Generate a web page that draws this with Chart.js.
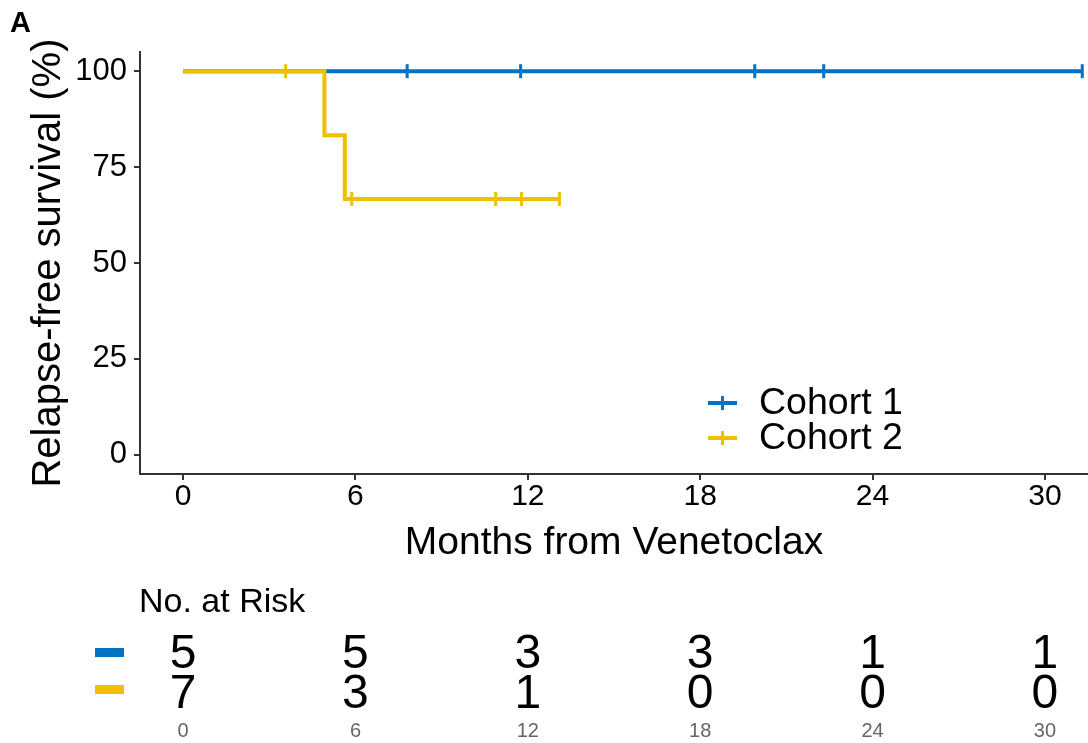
<!DOCTYPE html>
<html>
<head>
<meta charset="utf-8">
<script src="https://cdn.jsdelivr.net/npm/chart.js@4.4.1/dist/chart.umd.min.js"></script>
<style>
    html, body { margin: 0; padding: 0; background: #fff; }
    #contenedor { width: 1088px; height: 743px; }
</style>
</head>
<body>
<div id="contenedor"><canvas id="chartKM" width="1088" height="743"></canvas></div>
<script>
const cohortes = ['Cohort 1', 'Cohort 2'];
const colores = ['#0073C2', '#EFC000'];

// curva de Kaplan-Meier (tiempo en meses, supervivencia en %)
const tiempos1 = [0, 31.3];
const superv1 = [100, 100];
const censuraT1 = [7.8, 11.75, 19.9, 22.3, 31.3];
const censuraS1 = [100, 100, 100, 100, 100];

const tiempos2 = [0, 4.92, 5.63, 13.1];
const superv2 = [100, 83.3, 66.7, 66.7];
const censuraT2 = [3.57, 5.87, 10.88, 11.78, 13.1];
const censuraS2 = [100, 66.7, 66.7, 66.7, 66.7];

const ticksX = [0, 6, 12, 18, 24, 30];
const ticksY = [0, 25, 50, 75, 100];
const enRiesgo1 = [5, 5, 3, 3, 1, 1];
const enRiesgo2 = [7, 3, 1, 0, 0, 0];

const fuente = '"Liberation Sans", Arial, sans-serif';

function puntos(ts, ss) {
    return ts.map((t, i) => ({ x: t, y: ss[i] }));
}

const tablaRiesgo = {
    id: 'tablaRiesgo',
    afterDraw(chart) {
        const ctx = chart.ctx;
        const escalaX = chart.scales.x;
        ctx.save();

        ctx.fillStyle = '#000';
        ctx.font = 'bold 29px ' + fuente;
        ctx.textAlign = 'left';
        ctx.textBaseline = 'alphabetic';
        ctx.fillText('A', 10, 32);

        // leyenda dentro del panel
        const filasLeyenda = [403, 438];
        cohortes.forEach((nombre, i) => {
            const y = filasLeyenda[i];
            ctx.strokeStyle = colores[i];
            ctx.lineWidth = 4;
            ctx.beginPath();
            ctx.moveTo(708, y);
            ctx.lineTo(737, y);
            ctx.stroke();
            ctx.lineWidth = 3;
            ctx.beginPath();
            ctx.moveTo(722.5, y - 7);
            ctx.lineTo(722.5, y + 7);
            ctx.stroke();
            ctx.fillStyle = '#000';
            ctx.font = '37.5px ' + fuente;
            ctx.textAlign = 'left';
            ctx.textBaseline = 'middle';
            ctx.fillText(nombre, 759, y + 1);
        });

        // tabla de numero en riesgo
        ctx.fillStyle = '#000';
        ctx.font = '34px ' + fuente;
        ctx.textAlign = 'left';
        ctx.textBaseline = 'alphabetic';
        ctx.fillText('No. at Risk', 139, 612);

        const filas = [enRiesgo1, enRiesgo2];
        const basesY = [668, 708];
        const barrasY = [648, 685];
        filas.forEach((fila, i) => {
            ctx.fillStyle = colores[i];
            ctx.fillRect(95, barrasY[i], 29, 9);
            ctx.fillStyle = '#000';
            ctx.font = '48px ' + fuente;
            ctx.textAlign = 'center';
            fila.forEach((n, j) => {
                ctx.fillText(String(n), escalaX.getPixelForValue(ticksX[j]), basesY[i]);
            });
        });

        ctx.fillStyle = '#666';
        ctx.font = '20px ' + fuente;
        ticksX.forEach(t => {
            ctx.fillText(String(t), escalaX.getPixelForValue(t), 737);
        });

        ctx.restore();
    }
};

const ctx = document.getElementById('chartKM').getContext('2d');

const chart = new Chart(ctx, {
    type: 'line',
    data: {
        datasets: [
            {
                label: cohortes[1],
                data: puntos(tiempos2, superv2),
                borderColor: colores[1],
                borderWidth: 4,
                stepped: true,
                pointRadius: 0,
                fill: false,
                order: 1
            },
            {
                label: cohortes[0],
                data: puntos(tiempos1, superv1),
                borderColor: colores[0],
                borderWidth: 4,
                stepped: true,
                pointRadius: 0,
                fill: false,
                order: 2
            },
            {
                label: cohortes[0] + ' censura',
                data: puntos(censuraT1, censuraS1),
                showLine: false,
                pointStyle: 'line',
                rotation: 90,
                pointRadius: 7,
                borderColor: colores[0],
                borderWidth: 3,
                order: 0
            },
            {
                label: cohortes[1] + ' censura',
                data: puntos(censuraT2, censuraS2),
                showLine: false,
                pointStyle: 'line',
                rotation: 90,
                pointRadius: 7,
                borderColor: colores[1],
                borderWidth: 3,
                order: 0
            }
        ]
    },
    options: {
        responsive: false,
        animation: false,
        layout: {
            autoPadding: false,
            padding: { left: 0, right: 0, top: 52, bottom: 176 }
        },
        plugins: {
            legend: { display: false },
            tooltip: { enabled: false }
        },
        scales: {
            x: {
                type: 'linear',
                min: -1.5,
                max: 31.5,
                afterBuildTicks: (escala) => { escala.ticks = ticksX.map(v => ({ value: v })); },
                afterFit: (escala) => {
                    escala.height = 93;
                    escala.paddingRight = 0;
                    escala.paddingLeft = 0;
                },
                grid: { drawOnChartArea: false, drawTicks: true, tickLength: 6, color: '#333', lineWidth: 2 },
                border: { display: true, color: '#333', width: 2 },
                ticks: {
                    color: '#000',
                    padding: 2,
                    maxRotation: 0,
                    font: { family: fuente, size: 30, lineHeight: 1 }
                },
                title: {
                    display: true,
                    text: 'Months from Venetoclax',
                    color: '#000',
                    padding: { top: 0, bottom: 0 },
                    font: { family: fuente, size: 39, lineHeight: 1.2 }
                }
            },
            y: {
                min: -5,
                max: 105,
                afterBuildTicks: (escala) => { escala.ticks = ticksY.map(v => ({ value: v })); },
                afterFit: (escala) => {
                    escala.width = 140;
                    escala.paddingTop = 0;
                    escala.paddingBottom = 0;
                },
                grid: { drawOnChartArea: false, drawTicks: true, tickLength: 6, color: '#333', lineWidth: 2 },
                border: { display: true, color: '#333', width: 2 },
                ticks: {
                    color: '#000',
                    padding: 7,
                    font: { family: fuente, size: 31, lineHeight: 1 }
                },
                title: {
                    display: true,
                    text: 'Relapse-free survival (%)',
                    color: '#000',
                    padding: { top: 25, bottom: 0 },
                    font: { family: fuente, size: 40, lineHeight: 1.2 }
                }
            }
        }
    },
    plugins: [tablaRiesgo]
});
</script>
</body>
</html>
